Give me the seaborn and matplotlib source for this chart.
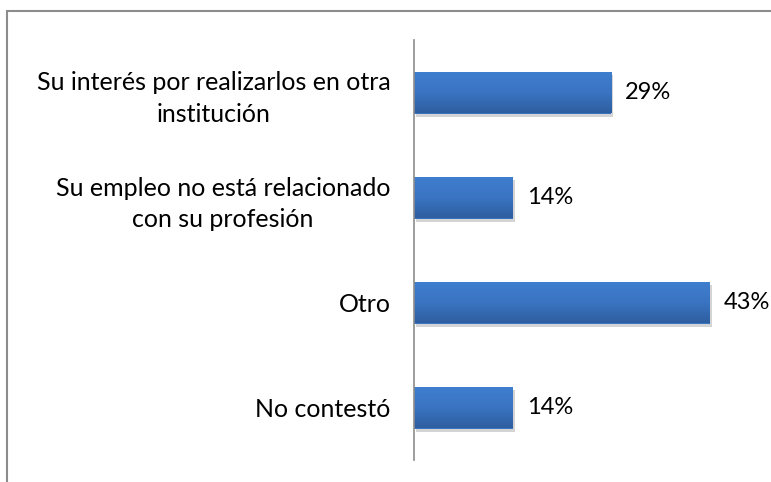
import numpy as np
import pandas as pd
import matplotlib
matplotlib.use("Agg")
import matplotlib.pyplot as plt
import matplotlib.patches as mpatches
import matplotlib.patheffects as pe
from matplotlib.colors import LinearSegmentedColormap
import seaborn as sns

categories = [
    "Su interés por realizarlos en otra\ninstitución",
    "Su empleo no está relacionado\ncon su profesión",
    "Otro",
    "No contestó",
]
values = [2/7, 1/7, 3/7, 1/7]
labels = ["29%", "14%", "43%", "14%"]

df = pd.DataFrame({"cat": categories, "val": values})

sns.set_theme(style="white")
plt.rcParams["font.family"] = ["Lato", "DejaVu Sans"]

fig = plt.figure(figsize=(7.71, 4.82), dpi=100)
ax = fig.add_axes([414/771, 1 - 460/482, (759 - 414)/771, 420/482])

sns.barplot(data=df, x="val", y="cat", ax=ax, color="#3A75C4", width=0.4,
            saturation=1, edgecolor="none", linewidth=0)

ax.set_xlim(0, 0.5)
ax.set_xlabel("")
ax.set_ylabel("")
ax.set_xticks([])
for s in ["top", "right", "bottom"]:
    ax.spines[s].set_visible(False)
ax.spines["left"].set_color("#8C8C8C")
ax.spines["left"].set_linewidth(1.2)
ax.tick_params(axis="y", length=0, pad=17, labelsize=18, labelcolor="black")
for t in ax.get_yticklabels():
    t.set_multialignment("center")
    t.set_linespacing(1.45)

# gradient fill on bars
grad = np.linspace(0, 1, 256).reshape(-1, 1)
cmap = LinearSegmentedColormap.from_list("g", ["#3F7FCF", "#3A74C2", "#2E5E9F"])
for p in ax.patches:
    x0, y0 = p.get_x(), p.get_y()
    w, h = p.get_width(), p.get_height()
    p.set_path_effects([pe.SimplePatchShadow(offset=(1.5, -2.5), shadow_rgbFace="#a0a0a0", alpha=0.45), pe.Normal()])
    im = ax.imshow(grad, cmap=cmap, aspect="auto", extent=(x0, x0 + w, y0 + h, y0),
                   zorder=p.get_zorder() + 0.1, interpolation="bilinear")
    im.set_clip_path(p)

ax.set_ylim(3.5, -0.5)
ax.set_xlim(0, 0.5)

for p, lab in zip(ax.patches, labels):
    ax.annotate(lab, (p.get_x() + p.get_width(), p.get_y() + p.get_height()/2),
                xytext=(14, 0), textcoords="offset pixels",
                va="center", ha="left", fontsize=17, color="black")

# outer frame
fig.patches.append(mpatches.Rectangle((7/771, -0.1), 1.2, 1 - 11/482 + 0.1,
                                      transform=fig.transFigure, fill=False,
                                      edgecolor="#8C8C8C", linewidth=1.5))

fig.savefig("out.png", dpi=100)
